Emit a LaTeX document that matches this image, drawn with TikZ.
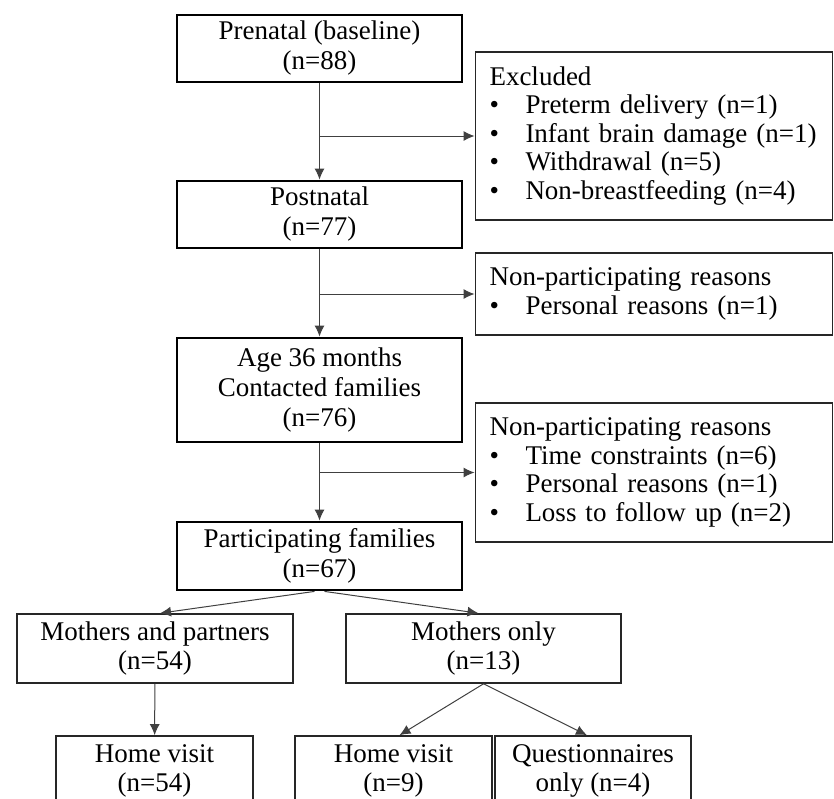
\documentclass[tikz,border=0pt]{standalone}
\usepackage{fontspec}
\setmainfont{Liberation Serif}
\usetikzlibrary{arrows.meta}

\newcommand{\bitem}[1]{\makebox[36pt][l]{\textbullet}#1}

\begin{document}
\begin{tikzpicture}[x=1pt, y=-1pt,
  mainnode/.style={rectangle, draw=black, line width=2.8pt, minimum width=285pt, inner sep=0pt, align=center, font=\fontsize{27}{30}\selectfont},
  sidenode/.style={rectangle, draw=black!85, line width=1.9pt, text width=329pt, inner xsep=14pt, inner ysep=0pt, align=left, font=\fontsize{27}{28.5}\selectfont},
  subnode/.style={rectangle, draw=black!85, line width=1.6pt, minimum height=69pt, inner sep=0pt, align=center, font=\fontsize{27}{29}\selectfont},
  flow/.style={-{Latex[length=11pt, width=10pt]}, line width=1pt, color=black!75}]
\useasboundingbox (0,0) rectangle (834,798);
% main column
\node[mainnode, minimum height=67pt] at (319.5, 48.5) (pre) {Prenatal (baseline)\\(n=88)};
\node[mainnode, minimum height=67pt] at (319.5, 214.5) (post) {Postnatal\\(n=77)};
\node[mainnode, minimum height=104pt] at (319.5, 390) (age) {Age 36 months\\Contacted families\\(n=76)};
\node[mainnode, minimum height=68pt] at (319.5, 556) (part) {Participating families\\(n=67)};
% side boxes
\node[sidenode, minimum height=168pt] at (654, 136) (excl) {Excluded\\\bitem{Preterm delivery (n=1)}\\\bitem{Infant brain damage (n=1)}\\\bitem{Withdrawal (n=5)}\\\bitem{Non-breastfeeding (n=4)}};
\node[sidenode, minimum height=82pt] at (654, 294) (np1) {Non-participating reasons\\\bitem{Personal reasons (n=1)}};
\node[sidenode, minimum height=139pt] at (654, 472.5) (np2) {Non-participating reasons\\\bitem{Time constraints (n=6)}\\\bitem{Personal reasons (n=1)}\\\bitem{Loss to follow up (n=2)}};
\draw[flow] (pre) -- (post);
\draw[flow] (pre.south |- excl.west) -- (excl.west);
\draw[flow] (post) -- (age);
\draw[flow] (post.south |- np1.west) -- (np1.west);
\draw[flow] (age) -- (part);
\draw[flow] (age.south |- np2.west) -- (np2.west);
% groups
\node[subnode, minimum width=276pt] at (155, 648.5) (mp) {Mothers and partners\\(n=54)};
\node[subnode, minimum width=275pt] at (483.5, 648.5) (mo) {Mothers only\\(n=13)};
\draw[flow] ([xshift=-5pt]part.south) -- ([xshift=5pt]mp.north);
\draw[flow] ([xshift=5pt]part.south) -- ([xshift=-5pt]mo.north);
\node[subnode, minimum width=197pt, minimum height=70pt] at (154.5, 771) (hv1) {Home visit\\(n=54)};
\node[subnode, minimum width=197pt, minimum height=70pt] at (393.5, 771) (hv2) {Home visit\\(n=9)};
\node[subnode, minimum width=196pt, minimum height=70pt] at (593, 771) (quest) {Questionnaires\\only (n=4)};
\draw[flow] (mp) -- (hv1);
\draw[flow] (mo.south) -- ([xshift=6pt]hv2.north);
\draw[flow] (mo.south) -- ([xshift=-6pt]quest.north);
\end{tikzpicture}
\end{document}
